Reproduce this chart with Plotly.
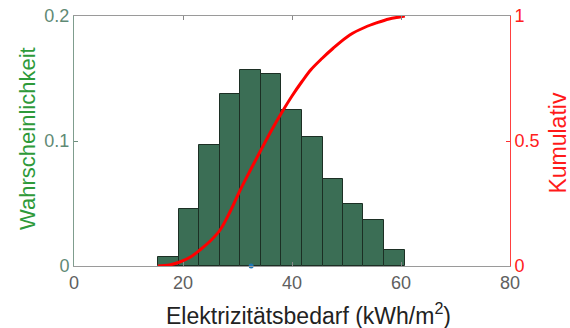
import plotly.graph_objects as go

# Histogram data (probability per bin)
bin_edges = [15.4, 19.2, 22.9, 26.7, 30.5, 34.3, 38.0, 41.8, 45.6, 49.4, 53.1, 56.9, 60.7]
probabilities = [0.0075, 0.0455, 0.097, 0.138, 0.157, 0.154, 0.1245, 0.103, 0.0696, 0.0495, 0.0367, 0.0126]

# Cumulative curve
cum_x = [15.4, 17.5, 19.4, 21.3, 23.1, 25.0, 26.8, 28.7, 30.5, 32.4, 34.3, 36.3, 38.2, 40.0, 41.8, 43.5, 45.5, 47.5, 50.6, 53.4, 55.6, 57.8, 59.8, 60.7]
cum_y = [0.0, 0.004, 0.016, 0.035, 0.064, 0.100, 0.144, 0.220, 0.304, 0.385, 0.464, 0.545, 0.617, 0.680, 0.737, 0.786, 0.830, 0.870, 0.924, 0.955, 0.973, 0.988, 0.996, 1.0]

# Marker on axis
dot_x = [32.5]
dot_y = [0.0]

x_ticks = [0, 20, 40, 60, 80]
y_ticks = [0, 0.1, 0.2]
y_labels = ["0", "0.1", "0.2"]
y2_ticks = [0, 0.5, 1]
y2_labels = ["0", "0.5", "1"]

x_title = "Elektrizitätsbedarf (kWh/m<sup>2</sup>)"
y_title = "Wahrscheinlichkeit"
y2_title = "Kumulativ"

centers = [(bin_edges[i] + bin_edges[i + 1]) / 2 for i in range(len(probabilities))]
widths = [bin_edges[i + 1] - bin_edges[i] for i in range(len(probabilities))]

FONT = "Liberation Sans, Arial, sans-serif"

fig = go.Figure()
fig.add_trace(go.Bar(
    x=centers, y=probabilities, width=widths,
    marker=dict(color="#3b6e55", line=dict(color="#1c2f24", width=1)),
    yaxis="y", showlegend=False,
))
fig.add_trace(go.Scatter(
    x=cum_x, y=cum_y, mode="lines", line=dict(color="#ff0000", width=3, shape="spline"),
    yaxis="y2", showlegend=False,
))
fig.add_trace(go.Scatter(
    x=dot_x, y=dot_y, mode="markers", marker=dict(color="#1f77b4", size=5),
    yaxis="y", showlegend=False, cliponaxis=False,
))

fig.update_layout(
    width=570, height=328,
    margin=dict(l=74, r=60, t=16, b=62),
    paper_bgcolor="white", plot_bgcolor="white",
    font=dict(family=FONT, size=18, color="#555555"),
    bargap=0,
    xaxis=dict(
        range=[0, 80], tickvals=x_ticks, ticks="inside", ticklen=4, tickcolor="#888888",
        showline=True, linecolor="#9a9a9a", linewidth=1, mirror="ticks",
        showgrid=False, zeroline=False, automargin=False,
        tickfont=dict(size=18, color="#606060"),
    ),
    yaxis=dict(
        range=[0, 0.2], tickvals=y_ticks, ticktext=y_labels, ticks="inside", ticklen=4,
        tickcolor="#6d8f7e", showline=True, linecolor="#7f9d8e", linewidth=1,
        showgrid=False, zeroline=False, automargin=False,
        tickfont=dict(size=18, color="#5f8a75"),
    ),
    yaxis2=dict(
        range=[0, 1], tickvals=y2_ticks, ticktext=y2_labels, overlaying="y", side="right",
        ticks="inside", ticklen=4, tickcolor="#ff3030", showline=True, linecolor="#ff4040", linewidth=1,
        showgrid=False, zeroline=False, automargin=False,
        tickfont=dict(size=18, color="#ff2020"),
    ),
    annotations=[
        dict(text=x_title, xref="paper", yref="paper", x=0.537, y=-0.19,
             xanchor="center", yanchor="middle", showarrow=False,
             font=dict(size=23, color="#222222")),
        dict(text=y_title, xref="paper", yref="paper", x=-0.108, y=0.512, textangle=-90,
             xanchor="center", yanchor="middle", showarrow=False,
             font=dict(size=22, color="#2e9a3a")),
        dict(text=y2_title, xref="paper", yref="paper", x=1.108, y=0.49, textangle=-90,
             xanchor="center", yanchor="middle", showarrow=False,
             font=dict(size=23, color="#ff1a1a")),
    ],
)

fig.write_html("out.html")
